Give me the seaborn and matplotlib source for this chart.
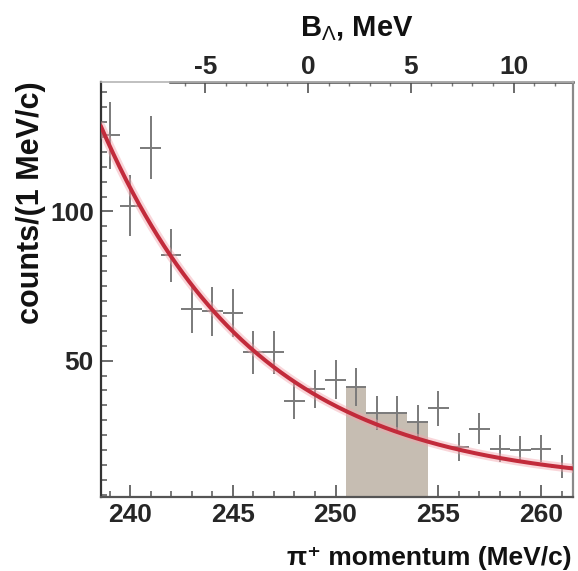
import numpy as np
import pandas as pd
import matplotlib
matplotlib.use("Agg")
import matplotlib.pyplot as plt
from matplotlib.ticker import FixedLocator, MultipleLocator
import seaborn as sns

# pi+ momentum spectrum, 1 MeV/c bins
momentum = [239, 240, 241, 242, 243, 244, 245, 246, 247, 248, 249, 250,
            251, 252, 253, 254, 255, 256, 257, 258, 259, 260, 261]
counts = [125.5, 102.0, 121.4, 85.3, 67.4, 66.5, 66.0, 52.8, 52.8, 36.6, 40.5, 43.6,
          41.3, 32.5, 32.5, 29.5, 34.0, 21.0, 27.2, 20.5, 20.2, 20.5, 14.5]
count_errors = [11.2, 10.3, 10.6, 8.8, 8.2, 8.2, 8.1, 7.3, 7.3, 6.0, 6.4, 6.6,
                6.4, 5.7, 5.7, 5.5, 5.8, 4.6, 5.2, 4.5, 4.5, 4.5, 3.8]

# signal window (shaded)
signal_momentum = [251, 252, 253, 254]

# exponential background fit: const + amp * exp(-(p - ref) / tau)
fit_amp = 100.0
fit_ref = 240.0
fit_tau = 7.6
fit_const = 8.0

# binding-energy scale: momentum at which B_Lambda = 0
b_zero_momentum = 248.66

x_ticks = [240, 245, 250, 255, 260]
y_ticks = [50, 100]
b_ticks = [-5, 0, 5, 10]

sns.set_style("white")
font_list = ["Liberation Sans", "DejaVu Sans"]
plt.rcParams["font.family"] = font_list
plt.rcParams["mathtext.fontset"] = "custom"
plt.rcParams["mathtext.rm"] = "Liberation Sans"
plt.rcParams["mathtext.bf"] = "Liberation Sans:bold"

W, H = 578, 571
fig = plt.figure(figsize=(W / 100, H / 100), dpi=100)
left, right, top, bottom = 100.7, 573.3, 81.7, 496.7
ax = fig.add_axes([left / W, 1 - bottom / H, (right - left) / W, (bottom - top) / H])

df = pd.DataFrame({"momentum": momentum, "counts": counts, "err": count_errors})
sig = df[df["momentum"].isin(signal_momentum)]

# shaded signal region
edges = [m - 0.5 for m in signal_momentum] + [signal_momentum[-1] + 0.5]
sns.histplot(data=sig, x="momentum", weights="counts", bins=edges, ax=ax,
             color="#c6bdb2", alpha=1.0, linewidth=0, element="bars", zorder=1)

# data points with errors
ax.errorbar(df["momentum"], df["counts"], xerr=0.5, yerr=df["err"], fmt="none",
            ecolor="#7a7a7a", elinewidth=1.4, capsize=0, zorder=2)

# background fit curve
xlim = (238.57, 261.57)
p_fine = np.linspace(xlim[0], xlim[1], 300)
fit = pd.DataFrame({"p": p_fine,
                    "f": fit_const + fit_amp * np.exp(-(p_fine - fit_ref) / fit_tau)})
sns.lineplot(data=fit, x="p", y="f", ax=ax, color="#f3a3ab", linewidth=6.5, alpha=0.45, zorder=3)
sns.lineplot(data=fit, x="p", y="f", ax=ax, color="#c22b3b", linewidth=2.9, zorder=4)

ax.set_xlim(*xlim)
ax.set_ylim(4.4, 143.5)
ax.set_xlabel("")
ax.set_ylabel("")

# axes frame
ax.spines["left"].set_color("#333333")
ax.spines["left"].set_linewidth(1.6)
ax.spines["bottom"].set_color("#555555")
ax.spines["bottom"].set_linewidth(1.6)
ax.spines["right"].set_color("#8a8a8a")
ax.spines["right"].set_linewidth(1.6)
ax.spines["top"].set_color("#b5b5b5")
ax.spines["top"].set_linewidth(1.2)

tick_font = dict(family=font_list, size=19, weight="bold")

ax.xaxis.set_major_locator(FixedLocator(x_ticks))
ax.xaxis.set_minor_locator(MultipleLocator(1))
ax.yaxis.set_major_locator(FixedLocator(y_ticks))
ax.yaxis.set_minor_locator(MultipleLocator(5))
ax.tick_params(axis="both", which="major", direction="in", length=8.5, width=1.1,
               color="#444444", top=False, right=False, bottom=True, left=True)
ax.tick_params(axis="both", which="minor", direction="in", length=4.3, width=1.1,
               color="#555555", top=False, right=False, bottom=True, left=True)
ax.tick_params(axis="x", which="major", pad=4.5)
ax.tick_params(axis="y", which="major", pad=5)
ax.set_xticklabels([str(t) for t in x_ticks], fontdict=tick_font)
ax.set_yticklabels([str(t) for t in y_ticks], fontdict=tick_font)

# binding-energy axis on top
secax = ax.secondary_xaxis("top", functions=(lambda p: p - b_zero_momentum,
                                              lambda b: b + b_zero_momentum))
secax.xaxis.set_major_locator(FixedLocator(b_ticks))
secax.xaxis.set_minor_locator(FixedLocator([b for b in range(-6, 13) if b not in b_ticks]))
secax.tick_params(which="major", direction="in", length=8, width=1.1, color="#444444", pad=2)
secax.tick_params(which="minor", direction="in", length=3, width=1.0, color="#777777")
secax.set_xticks(b_ticks)
secax.set_xticklabels([str(b) for b in b_ticks], fontdict=tick_font)
secax.spines["top"].set_color("#4a4a4a")
secax.spines["top"].set_linewidth(1.8)
secax.spines["top"].set_bounds(-6.7, xlim[1] - b_zero_momentum)

fig.text(300 / W, 1 - 36.5 / H, r"B$_{\Lambda}$, MeV", family=font_list, size=21,
         weight="bold", ha="left", va="baseline", color="#111111")
fig.text(31 / W, 1 - top / H, "counts/(1 MeV/c)", family=font_list, size=22,
         weight="bold", rotation=90, ha="center", va="top", color="#111111")
fig.text(572 / W, 1 - 565 / H, "\u03c0\u207a momentum (MeV/c)", family=font_list,
         size=19, weight="bold", ha="right", va="baseline", color="#111111")

fig.savefig("out.png", dpi=100, facecolor="white")
